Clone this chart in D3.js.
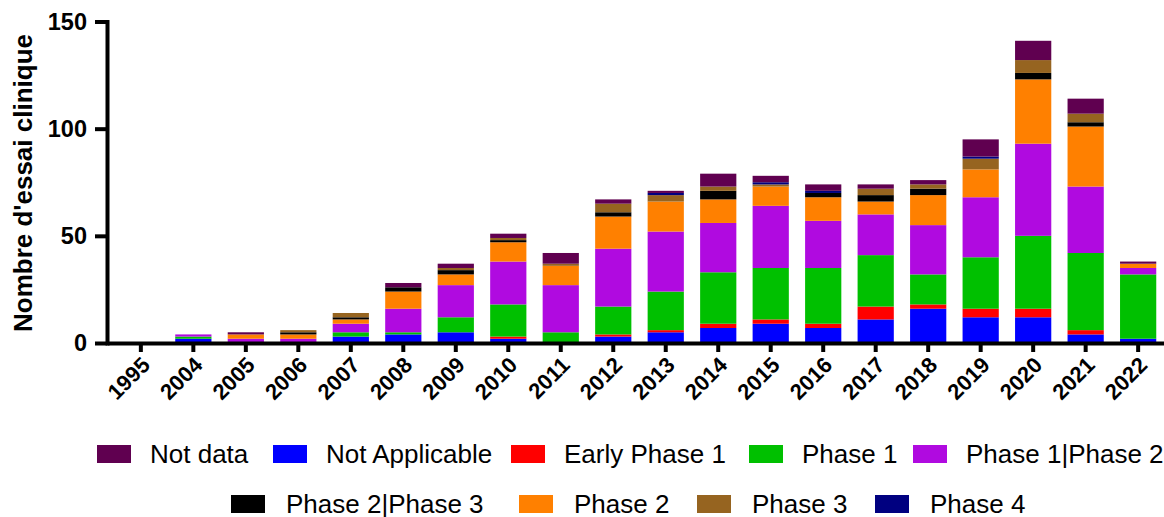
<!DOCTYPE html>
<html><head><meta charset="utf-8">
<script src="https://cdn.jsdelivr.net/npm/d3@7"></script>
<style>
html,body{margin:0;padding:0;background:#fff;}
svg{display:block;font-family:"Liberation Sans",Arial,sans-serif;}
</style></head>
<body>
<svg id="chart" width="1164" height="517"></svg>
<script>
const years = ["1995","2004","2005","2006","2007","2008","2009","2010","2011","2012","2013","2014","2015","2016","2017","2018","2019","2020","2021","2022"];
const notApplicable = [0,2,0,0,3,4,5,2,0,3,5,7,9,7,11,16,12,12,4,2];
const earlyPhase1   = [0,0,0,0,0,0,0,1,0,1,1,2,2,2,6,2,4,4,2,0];
const phase1        = [0,1,0,0,2,1,7,15,5,13,18,24,24,26,24,14,24,34,36,30];
const phase1Phase2  = [0,1,2,2,4,11,15,20,22,27,28,23,29,22,19,23,28,43,31,3];
const phase2        = [0,0,2,2,2,8,5,9,9,15,14,11,9,11,6,14,13,30,28,2];
const phase2Phase3  = [0,0,0,1,1,2,2,1,0,2,0,4,0,2,3,3,0,3,2,0];
const phase3        = [0,0,0,1,2,0,1,1,1,4,3,2,1,0,3,2,5,6,4,0];
const phase4        = [0,0,0,0,0,0,0,0,0,0,1,0,1,1,0,0,1,0,0,0];
const notData       = [0,0,1,0,0,2,2,2,5,2,1,6,3,3,2,2,8,9,7,1];
const yTicks = [0,50,100,150];
const yTitle = "Nombre d'essai clinique";

const series = [
  {key:"Not Applicable", values:notApplicable, color:"#0000ff"},
  {key:"Early Phase 1", values:earlyPhase1, color:"#ff0000"},
  {key:"Phase 1", values:phase1, color:"#00c000"},
  {key:"Phase 1|Phase 2", values:phase1Phase2, color:"#b00ae0"},
  {key:"Phase 2", values:phase2, color:"#ff8000"},
  {key:"Phase 2|Phase 3", values:phase2Phase3, color:"#000000"},
  {key:"Phase 3", values:phase3, color:"#966420"},
  {key:"Phase 4", values:phase4, color:"#000080"},
  {key:"Not data", values:notData, color:"#600050"}
];
const legendRows = [
  ["Not data","Not Applicable","Early Phase 1","Phase 1","Phase 1|Phase 2"],
  ["Phase 2|Phase 3","Phase 2","Phase 3","Phase 4"]
];

const table = years.map((yr,i)=>{const o={year:yr}; series.forEach(s=>o[s.key]=s.values[i]); return o;});
const stacked = d3.stack().keys(series.map(s=>s.key))(table);
const colorOf = Object.fromEntries(series.map(s=>[s.key,s.color]));

const svg = d3.select("#chart");
const x = d3.scaleBand().domain(years).range([107,1172]).paddingInner(0.31).paddingOuter(0.3);
const y = d3.scaleLinear().domain([0,150]).range([343,21.5]);

svg.append("g").selectAll("g").data(stacked).join("g")
  .attr("fill", d=>colorOf[d.key])
  .selectAll("rect").data(d=>d).join("rect")
  .attr("x", d=>x(d.data.year))
  .attr("width", x.bandwidth())
  .attr("y", d=>y(d[1]))
  .attr("height", d=>y(d[0])-y(d[1]));

const xAxis = svg.append("g").attr("transform","translate(0,343)")
  .call(d3.axisBottom(x).tickSize(9).tickSizeOuter(0));
xAxis.select(".domain").attr("stroke","#000").attr("stroke-width",4);
xAxis.selectAll(".tick line").attr("stroke","#000").attr("stroke-width",4);
xAxis.selectAll(".tick text")
  .attr("x",null).attr("y",null).attr("dy","0.35em")
  .attr("transform","translate(5,18) rotate(-45)")
  .attr("text-anchor","end")
  .style("font-size","22px").style("font-weight","bold").attr("fill","#000")
  .style("font-family","'Liberation Sans',Arial,sans-serif");

const yAxis = svg.append("g").attr("transform","translate(107,0)")
  .call(d3.axisLeft(y).tickValues(yTicks).tickSize(12).tickPadding(8).tickSizeOuter(0));
yAxis.select(".domain").attr("stroke","#000").attr("stroke-width",4).attr("stroke-linecap","square");
yAxis.selectAll(".tick line").attr("stroke","#000").attr("stroke-width",4);
yAxis.selectAll(".tick text")
  .style("font-size","23.5px").style("font-weight","bold").attr("fill","#000")
  .style("font-family","'Liberation Sans',Arial,sans-serif");

svg.append("text")
  .attr("transform","translate(32,183) rotate(-90)")
  .attr("text-anchor","middle")
  .style("font-size","26px").style("font-weight","bold")
  .text(yTitle);

// legend (layout positions)
const rowRectX = [[97,273,511,749,913],[231,519,697,875]];
const rowY = [445,495];
legendRows.forEach((row,ri)=>{
  row.forEach((k,i)=>{
    const rx = rowRectX[ri][i];
    svg.append("rect").attr("x",rx).attr("y",rowY[ri]).attr("width",34).attr("height",18).attr("fill",colorOf[k]);
    svg.append("text").attr("x",rx+34+(ri?21:19)).attr("y",rowY[ri]+17.5)
      .style("font-size","26px").attr("fill","#000").text(k);
  });
});
</script>
</body></html>
